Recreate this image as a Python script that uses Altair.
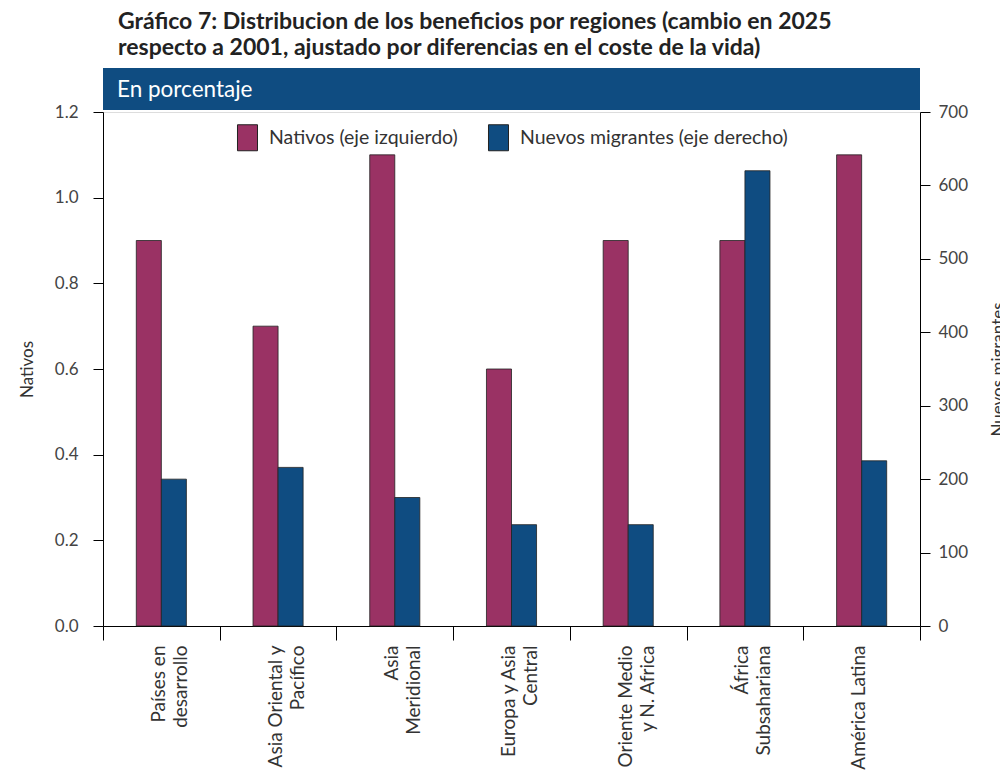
import altair as alt
import pandas as pd

regions = ["Países en|desarrollo", "Asia Oriental y|Pacífico", "Asia|Meridional",
           "Europa y Asia|Central", "Oriente Medio|y N. Africa", "África|Subsahariana",
           "América Latina"]
nativos = [0.9, 0.7, 1.1, 0.6, 0.9, 0.9, 1.1]
migrantes = [200, 216, 175, 138, 138, 620, 225]
series = ["Nativos (eje izquierdo)", "Nuevos migrantes (eje derecho)"]
colors = ["#9A3264", "#0F4C81"]
left_ticks = [0.0, 0.2, 0.4, 0.6, 0.8, 1.0, 1.2]
right_ticks = [0, 100, 200, 300, 400, 500, 600, 700]
title_lines = ["Gráfico 7: Distribucion de los beneficios por regiones (cambio en 2025",
               "respecto a 2001, ajustado por diferencias en el coste de la vida)"]
subtitle = "En porcentaje"

df_n = pd.DataFrame({"region": regions, "value": nativos, "serie": series[0]})
df_m = pd.DataFrame({"region": regions, "value": migrantes, "serie": series[1]})
df_b = pd.DataFrame({"t": [subtitle]})

W, H = 817, 514
FONT = "Lato"
TFONT = "Lato"

x_enc = alt.X("region:N", sort=regions,
              scale=alt.Scale(paddingInner=0, paddingOuter=0),
              axis=alt.Axis(title=None, labelAngle=270, labelAlign="right",
                            labelBaseline="middle", tickBand="extent",
                            labelExpr="split(datum.label, '|')",
                            labelFontSize=19, labelColor="#333", labelFont=FONT,
                            labelPadding=5, labelOffset=-3, tickSize=14, tickColor="#000",
                            domainColor="#000", labelLineHeight=22, grid=False))
# two empty slots flank the pair of bars so that they sit centred in each region
offset_domain = ["_a"] + series + ["_b"]
xoff = alt.XOffset("serie:N",
                   scale=alt.Scale(domain=offset_domain, paddingInner=0, paddingOuter=0.33))
color = alt.Color("serie:N", sort=series, scale=alt.Scale(domain=series, range=colors),
                  legend=alt.Legend(title=None, orient="none", legendX=131, legendY=12,
                                    direction="horizontal", labelFontSize=19.5,
                                    labelColor="#333", labelFont=FONT, labelLimit=0,
                                    symbolType="M-0.77,-1H0.77V1H-0.77Z", symbolSize=676,
                                    symbolStrokeColor="#222", symbolStrokeWidth=1,
                                    symbolOpacity=1, columnPadding=27, labelOffset=8))

axis_common = dict(grid=False, tickSize=10, labelFontSize=17, labelColor="#444",
                   labelFont=FONT, titleFontSize=17, titleFontWeight="normal",
                   titleColor="#333", titleFont=FONT, titleAngle=270,
                   domainColor="#000", tickColor="#000", titleY=H / 2)

bars_n = alt.Chart(df_n).mark_bar(stroke="#222", strokeWidth=0.8).encode(
    x=x_enc, xOffset=xoff, color=color,
    y=alt.Y("value:Q", scale=alt.Scale(domain=[0, 1.2]),
            axis=alt.Axis(title="Nativos", orient="left", values=left_ticks, format=".1f",
                          labelPadding=15, titleX=-67, **axis_common)))

bars_m = alt.Chart(df_m).mark_bar(stroke="#222", strokeWidth=0.8).encode(
    x=x_enc, xOffset=xoff, color=color,
    y=alt.Y("value:Q", scale=alt.Scale(domain=[0, 700]),
            axis=alt.Axis(title="Nuevos migrantes", orient="right", values=right_ticks,
                          format="d", labelPadding=8, titleX=87, **axis_common)))

banner = alt.Chart(df_b).mark_rect(color="#0F4C81").encode(
    x=alt.value(0), x2=alt.value(W), y=alt.value(-44), y2=alt.value(-2))
banner_text = alt.Chart(df_b).mark_text(align="left", baseline="middle", color="white",
                                         fontSize=22.5, font=FONT).encode(
    x=alt.value(14), y=alt.value(-22), text="t:N")

chart = alt.layer(bars_n, bars_m, banner, banner_text).resolve_scale(
    y="independent").properties(
    width=W, height=H,
    title=alt.TitleParams(text=title_lines, anchor="start", frame="group", dx=15,
                          font=TFONT, fontSize=23, fontWeight="bold", color="#222",
                          offset=8, lineHeight=26),
    padding={"left": 95, "top": 104, "right": 80, "bottom": 145},
    autosize=alt.AutoSizeParams(type="none"),
).configure_view(stroke=None).configure(background="white")

chart.save("out.html", embed_options={"renderer": "svg", "actions": False})
